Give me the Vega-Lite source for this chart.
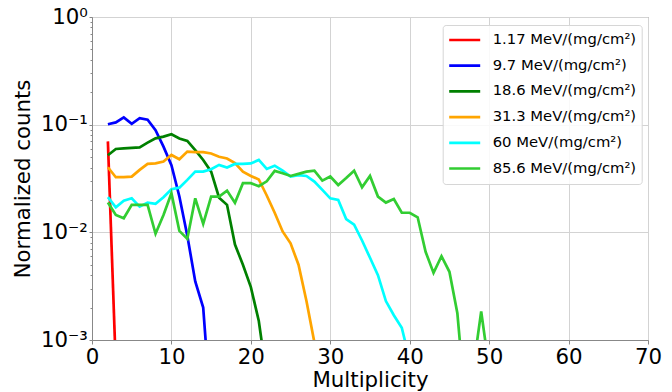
{
  "$schema": "https://vega.github.io/schema/vega-lite/v6.json",
  "width": 556,
  "height": 323,
  "autosize": {"type": "none"},
  "padding": {"left": 92, "top": 17, "right": 24, "bottom": 52},
  "config": {
    "font": "DejaVu Sans",
    "view": {"stroke": "#888888", "strokeWidth": 1},
    "axis": {
      "domainColor": "#888888",
      "tickColor": "#888888",
      "gridColor": "#d3d3d3",
      "gridWidth": 1,
      "labelColor": "#000000",
      "titleColor": "#000000",
      "labelFont": "DejaVu Sans",
      "titleFont": "DejaVu Sans",
      "labelFontSize": 21.3,
      "titleFontSize": 21.3,
      "titleFontWeight": "normal"
    }
  },
  "data": {
    "values": [
      {"s": "1.17", "m": 2, "v": 0.07},
      {"s": "1.17", "m": 3, "v": 0.00056},

      {"s": "9.7", "m": 2, "v": 0.101},
      {"s": "9.7", "m": 3, "v": 0.105},
      {"s": "9.7", "m": 4, "v": 0.117},
      {"s": "9.7", "m": 5, "v": 0.102},
      {"s": "9.7", "m": 6, "v": 0.115},
      {"s": "9.7", "m": 7, "v": 0.111},
      {"s": "9.7", "m": 8, "v": 0.089},
      {"s": "9.7", "m": 9, "v": 0.0625},
      {"s": "9.7", "m": 10, "v": 0.042},
      {"s": "9.7", "m": 11, "v": 0.0215},
      {"s": "9.7", "m": 12, "v": 0.0093},
      {"s": "9.7", "m": 13, "v": 0.0035},
      {"s": "9.7", "m": 14, "v": 0.002},
      {"s": "9.7", "m": 15, "v": 0.0002},

      {"s": "18.6", "m": 2, "v": 0.052},
      {"s": "18.6", "m": 3, "v": 0.0594},
      {"s": "18.6", "m": 4, "v": 0.0603},
      {"s": "18.6", "m": 5, "v": 0.061},
      {"s": "18.6", "m": 6, "v": 0.0616},
      {"s": "18.6", "m": 7, "v": 0.068},
      {"s": "18.6", "m": 8, "v": 0.0747},
      {"s": "18.6", "m": 9, "v": 0.0774},
      {"s": "18.6", "m": 10, "v": 0.0814},
      {"s": "18.6", "m": 11, "v": 0.0745},
      {"s": "18.6", "m": 12, "v": 0.0706},
      {"s": "18.6", "m": 13, "v": 0.058},
      {"s": "18.6", "m": 14, "v": 0.047},
      {"s": "18.6", "m": 15, "v": 0.0366},
      {"s": "18.6", "m": 16, "v": 0.021},
      {"s": "18.6", "m": 17, "v": 0.018},
      {"s": "18.6", "m": 18, "v": 0.0077},
      {"s": "18.6", "m": 19, "v": 0.005},
      {"s": "18.6", "m": 20, "v": 0.0031},
      {"s": "18.6", "m": 21, "v": 0.0015},
      {"s": "18.6", "m": 22, "v": 0.00045},

      {"s": "31.3", "m": 2, "v": 0.0402},
      {"s": "31.3", "m": 3, "v": 0.0325},
      {"s": "31.3", "m": 4, "v": 0.0325},
      {"s": "31.3", "m": 5, "v": 0.0329},
      {"s": "31.3", "m": 6, "v": 0.038},
      {"s": "31.3", "m": 7, "v": 0.0432},
      {"s": "31.3", "m": 8, "v": 0.0437},
      {"s": "31.3", "m": 9, "v": 0.0454},
      {"s": "31.3", "m": 10, "v": 0.0523},
      {"s": "31.3", "m": 11, "v": 0.0477},
      {"s": "31.3", "m": 12, "v": 0.0562},
      {"s": "31.3", "m": 13, "v": 0.0555},
      {"s": "31.3", "m": 14, "v": 0.0555},
      {"s": "31.3", "m": 15, "v": 0.054},
      {"s": "31.3", "m": 16, "v": 0.0504},
      {"s": "31.3", "m": 17, "v": 0.0485},
      {"s": "31.3", "m": 18, "v": 0.044},
      {"s": "31.3", "m": 19, "v": 0.0366},
      {"s": "31.3", "m": 20, "v": 0.0334},
      {"s": "31.3", "m": 21, "v": 0.031},
      {"s": "31.3", "m": 22, "v": 0.022},
      {"s": "31.3", "m": 23, "v": 0.0152},
      {"s": "31.3", "m": 24, "v": 0.0102},
      {"s": "31.3", "m": 25, "v": 0.0079},
      {"s": "31.3", "m": 26, "v": 0.005},
      {"s": "31.3", "m": 27, "v": 0.0023},
      {"s": "31.3", "m": 28, "v": 0.00095},
      {"s": "31.3", "m": 29, "v": 0.0003},

      {"s": "60", "m": 2, "v": 0.0212},
      {"s": "60", "m": 3, "v": 0.0171},
      {"s": "60", "m": 4, "v": 0.0197},
      {"s": "60", "m": 5, "v": 0.0207},
      {"s": "60", "m": 6, "v": 0.0173},
      {"s": "60", "m": 7, "v": 0.0189},
      {"s": "60", "m": 8, "v": 0.0184},
      {"s": "60", "m": 9, "v": 0.0212},
      {"s": "60", "m": 10, "v": 0.0251},
      {"s": "60", "m": 11, "v": 0.026},
      {"s": "60", "m": 12, "v": 0.0307},
      {"s": "60", "m": 13, "v": 0.0366},
      {"s": "60", "m": 14, "v": 0.0366},
      {"s": "60", "m": 15, "v": 0.0385},
      {"s": "60", "m": 16, "v": 0.0423},
      {"s": "60", "m": 17, "v": 0.04},
      {"s": "60", "m": 18, "v": 0.0432},
      {"s": "60", "m": 19, "v": 0.0432},
      {"s": "60", "m": 20, "v": 0.0437},
      {"s": "60", "m": 21, "v": 0.047},
      {"s": "60", "m": 22, "v": 0.0388},
      {"s": "60", "m": 23, "v": 0.0416},
      {"s": "60", "m": 24, "v": 0.0374},
      {"s": "60", "m": 25, "v": 0.0329},
      {"s": "60", "m": 26, "v": 0.034},
      {"s": "60", "m": 27, "v": 0.0334},
      {"s": "60", "m": 28, "v": 0.0296},
      {"s": "60", "m": 29, "v": 0.0248},
      {"s": "60", "m": 30, "v": 0.0207},
      {"s": "60", "m": 31, "v": 0.02},
      {"s": "60", "m": 32, "v": 0.0133},
      {"s": "60", "m": 33, "v": 0.0118},
      {"s": "60", "m": 34, "v": 0.0084},
      {"s": "60", "m": 35, "v": 0.0058},
      {"s": "60", "m": 36, "v": 0.004},
      {"s": "60", "m": 37, "v": 0.0023},
      {"s": "60", "m": 38, "v": 0.0017},
      {"s": "60", "m": 39, "v": 0.0013},
      {"s": "60", "m": 40, "v": 0.00065},

      {"s": "85.6", "m": 2, "v": 0.0189},
      {"s": "85.6", "m": 3, "v": 0.0145},
      {"s": "85.6", "m": 4, "v": 0.0135},
      {"s": "85.6", "m": 5, "v": 0.018},
      {"s": "85.6", "m": 6, "v": 0.018},
      {"s": "85.6", "m": 7, "v": 0.018},
      {"s": "85.6", "m": 8, "v": 0.0097},
      {"s": "85.6", "m": 9, "v": 0.0145},
      {"s": "85.6", "m": 10, "v": 0.0231},
      {"s": "85.6", "m": 11, "v": 0.0103},
      {"s": "85.6", "m": 12, "v": 0.0087},
      {"s": "85.6", "m": 13, "v": 0.0207},
      {"s": "85.6", "m": 14, "v": 0.012},
      {"s": "85.6", "m": 15, "v": 0.0215},
      {"s": "85.6", "m": 16, "v": 0.0215},
      {"s": "85.6", "m": 17, "v": 0.0244},
      {"s": "85.6", "m": 18, "v": 0.0188},
      {"s": "85.6", "m": 19, "v": 0.0286},
      {"s": "85.6", "m": 20, "v": 0.0286},
      {"s": "85.6", "m": 21, "v": 0.0268},
      {"s": "85.6", "m": 22, "v": 0.0298},
      {"s": "85.6", "m": 23, "v": 0.0372},
      {"s": "85.6", "m": 24, "v": 0.0354},
      {"s": "85.6", "m": 25, "v": 0.0334},
      {"s": "85.6", "m": 26, "v": 0.0349},
      {"s": "85.6", "m": 27, "v": 0.0366},
      {"s": "85.6", "m": 28, "v": 0.0374},
      {"s": "85.6", "m": 29, "v": 0.0302},
      {"s": "85.6", "m": 30, "v": 0.033},
      {"s": "85.6", "m": 31, "v": 0.0275},
      {"s": "85.6", "m": 32, "v": 0.0319},
      {"s": "85.6", "m": 33, "v": 0.0374},
      {"s": "85.6", "m": 34, "v": 0.0262},
      {"s": "85.6", "m": 35, "v": 0.0334},
      {"s": "85.6", "m": 36, "v": 0.0215},
      {"s": "85.6", "m": 37, "v": 0.0189},
      {"s": "85.6", "m": 38, "v": 0.0204},
      {"s": "85.6", "m": 39, "v": 0.0152},
      {"s": "85.6", "m": 40, "v": 0.0152},
      {"s": "85.6", "m": 41, "v": 0.0138},
      {"s": "85.6", "m": 42, "v": 0.0066},
      {"s": "85.6", "m": 43, "v": 0.0042},
      {"s": "85.6", "m": 44, "v": 0.006},
      {"s": "85.6", "m": 45, "v": 0.0043},
      {"s": "85.6", "m": 46, "v": 0.00177},
      {"s": "85.6", "m": 47, "v": 0.00026},
      {"s": "85.6", "m": 48, "v": 0.00054},
      {"s": "85.6", "m": 49, "v": 0.00184},
      {"s": "85.6", "m": 50, "v": 0.00054}
    ]
  },
  "mark": {"type": "line", "clip": true, "strokeWidth": 2.7},
  "encoding": {
    "x": {
      "field": "m",
      "type": "quantitative",
      "scale": {"domain": [0, 70], "nice": false, "zero": false},
      "axis": {
        "values": [0, 10, 20, 30, 40, 50, 60, 70],
        "title": "Multiplicity",
        "labelFlush": false,
        "tickSize": 4,
        "labelPadding": 2,
        "titlePadding": 2,
        "grid": true
      }
    },
    "y": {
      "field": "v",
      "type": "quantitative",
      "scale": {"type": "log", "domain": [0.001, 1], "nice": false},
      "axis": {
        "title": "Normalized counts",
        "values": [0.001, 0.002, 0.003, 0.004, 0.005, 0.006, 0.007, 0.008, 0.009, 0.01, 0.02, 0.03, 0.04, 0.05, 0.06, 0.07, 0.08, 0.09, 0.1, 0.2, 0.3, 0.4, 0.5, 0.6, 0.7, 0.8, 0.9, 1],
        "labelExpr": "datum.value == 1 ? '10⁰' : datum.value == 0.1 ? '10⁻¹' : datum.value == 0.01 ? '10⁻²' : datum.value == 0.001 ? '10⁻³' : ''",
        "labelOverlap": false,
        "labelPadding": 1.7,
        "titlePadding": 7,
        "gridOpacity": {"condition": {"test": "datum.value == 1 || datum.value == 0.1 || datum.value == 0.01 || datum.value == 0.001", "value": 1}, "value": 0},
        "tickSize": {"condition": {"test": "datum.value == 1 || datum.value == 0.1 || datum.value == 0.01 || datum.value == 0.001", "value": 3}, "value": 2}
      }
    },
    "color": {
      "field": "s",
      "type": "nominal",
      "scale": {
        "domain": ["1.17", "9.7", "18.6", "31.3", "60", "85.6"],
        "range": ["#ff0000", "#0000ff", "#008000", "#ffa500", "#00ffff", "#32cd32"]
      },
      "legend": {
        "title": null,
        "orient": "none",
        "legendX": 350.7,
        "legendY": 8,
        "labelExpr": "datum.label + ' MeV/(mg/cm²)'",
        "labelFont": "DejaVu Sans",
        "labelFontSize": 14.8,
        "labelColor": "#000000",
        "symbolType": "stroke",
        "symbolSize": 961,
        "symbolStrokeWidth": 2.7,
        "labelOffset": 11,
        "clipHeight": 20,
        "rowPadding": 5.7,
        "padding": 5,
        "strokeColor": "#d6d6d6",
        "fillColor": "rgba(255,255,255,0.85)",
        "cornerRadius": 3,
        "labelLimit": 300
      }
    }
  }
}
